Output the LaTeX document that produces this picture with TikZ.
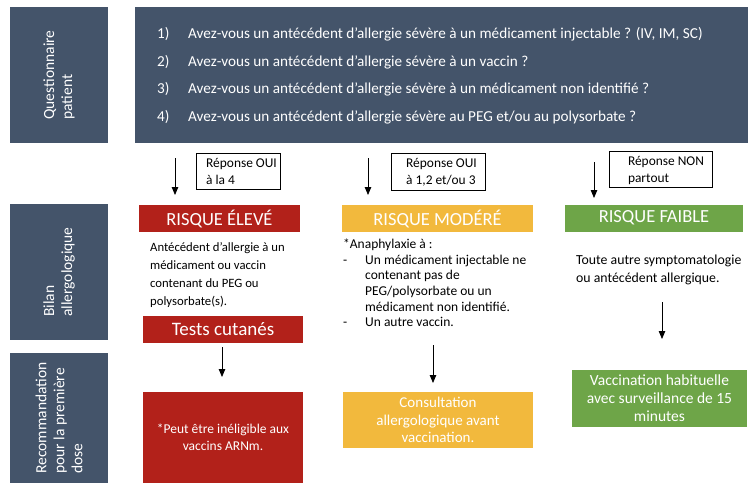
\documentclass[tikz,border=0pt]{standalone}
\usepackage{fontspec}
\setmainfont{Carlito}
\usetikzlibrary{arrows.meta}
\definecolor{slate}{HTML}{44546A}
\definecolor{rred}{HTML}{B2211A}
\definecolor{ryel}{HTML}{F2B93D}
\definecolor{rgrn}{HTML}{6EA548}
\newcommand{\fs}[2]{\fontsize{#1}{#2}\selectfont}
\begin{document}
\begin{tikzpicture}[x=1pt,y=-1pt,
  slatebox/.style={fill=slate,text=white,inner sep=0pt},
  sidelabel/.style={slatebox,rotate=90,minimum height=98pt,align=left,font=\fs{15.5}{18}},
  question/.style={anchor=base west,text=white,inner sep=0pt,font=\fs{15.2}{18}},
  header/.style={inner sep=0pt,minimum height=27pt,text=white,font=\fs{18.5}{20}},
  answer/.style={draw=black,line width=0.8pt,fill=white,inner sep=0pt,align=left,font=\fs{13.4}{17},text depth=0pt},
  body/.style={inner sep=0pt,align=left,anchor=north west},
  result/.style={inner sep=0pt,text=white,align=center},
  arr/.style={line width=0.8pt,-{Triangle[width=6.5pt,length=8pt]}}
]
\useasboundingbox (0,0) rectangle (749,483);

% side labels
\node[sidelabel,minimum width=136pt] (qlab) at (59,75) {Questionnaire\\patient};
\node[sidelabel,minimum width=136pt] (blab) at (59,272) {Bilan\\allergologique};
\node[sidelabel,minimum width=130pt] (rlab) at (59,418) {Recommandation\\pour la première\\dose};

% questionnaire
\node[slatebox,minimum width=613pt,minimum height=136pt] (qbox) at (441.5,75) {};
\node[question] (q1) at (157,38) {\makebox[31pt][l]{1)}Avez-vous un antécédent d’allergie sévère à un médicament injectable ? (IV, IM, SC)};
\node[question] (q2) at (157,66) {\makebox[31pt][l]{2)}Avez-vous un antécédent d’allergie sévère à un vaccin ?};
\node[question] (q3) at (157,93.5) {\makebox[31pt][l]{3)}Avez-vous un antécédent d’allergie sévère à un médicament non identifié ?};
\node[question] (q4) at (157,121) {\makebox[31pt][l]{4)}Avez-vous un antécédent d’allergie sévère au PEG et/ou au polysorbate ?};

% answers
\node[answer,minimum width=84pt,minimum height=36pt] (ans1) at (238,171) {\hspace*{7pt}Réponse OUI\\\hspace*{7pt}à la 4};
\node[answer,minimum width=94pt,minimum height=37pt] (ans2) at (438,171.5) {\hspace*{7pt}Réponse OUI\\\hspace*{7pt}à 1,2 et/ou 3};
\node[answer,minimum width=103pt,minimum height=36pt] (ans3) at (660.5,169) {\hspace*{11pt}Réponse NON\\\hspace*{11pt}partout};

\coordinate (a1s) at (175,158); \coordinate (a1e) at (175,195);
\coordinate (a2s) at (368,158); \coordinate (a2e) at (368,195);
\coordinate (a3s) at (594,162); \coordinate (a3e) at (594,198);
\draw[arr] (a1s) -- (a1e);
\draw[arr] (a2s) -- (a2e);
\draw[arr] (a3s) -- (a3e);

% headers
\node[header,fill=rred,minimum width=161pt] (hE) at (219.5,218.5) {RISQUE ÉLEVÉ};
\node[header,fill=ryel,minimum width=191pt] (hM) at (437.5,218.5) {RISQUE MODÉRÉ};
\node[header,fill=rgrn,minimum width=178pt] (hF) at (654,218) {RISQUE FAIBLE};

% descriptions
\node[body,font=\fs{12.7}{18}] (tE) at (150,242) {Antécédent d’allergie à un\\médicament ou vaccin\\contenant du PEG ou\\polysorbate(s).};
\node[body,font=\fs{13.5}{15.6}] (tM) at (343,239) {*Anaphylaxie à :\\\makebox[22pt][l]{-}Un médicament injectable ne\\\hspace*{22pt}contenant pas de\\\hspace*{22pt}PEG/polysorbate ou un\\\hspace*{22pt}médicament non identifié.\\\makebox[22pt][l]{-}Un autre vaccin.};
\node[body,font=\fs{13.8}{17.5}] (tF) at (576,255) {Toute autre symptomatologie\\ou antécédent allergique.};

% tests
\node[header,fill=rred,minimum width=160pt,font=\fs{19}{20}] (tc) at (223,329.5) {Tests cutanés};

\coordinate (a4s) at (222,347); \coordinate (a4e) at (222,377);
\coordinate (a5s) at (433,345); \coordinate (a5e) at (433,383);
\coordinate (a6s) at (662,302); \coordinate (a6e) at (662,339);
\draw[arr] (a4s) -- (a4e);
\draw[arr] (a5s) -- (a5e);
\draw[arr] (a6s) -- (a6e);

% recommendations
\node[result,fill=rred,minimum width=160pt,minimum height=91pt,font=\fs{13.5}{17.5}] (rE) at (223,437.5) {*Peut être inéligible aux\\vaccins ARNm.};
\node[result,fill=ryel,minimum width=190pt,minimum height=56pt,font=\fs{15}{17.5}] (rM) at (438,420) {Consultation\\allergologique avant\\vaccination.};
\node[result,fill=rgrn,minimum width=175pt,minimum height=57pt,font=\fs{15.5}{18}] (rF) at (659.5,398.5) {Vaccination habituelle\\avec surveillance de 15\\minutes};
\end{tikzpicture}
\end{document}
